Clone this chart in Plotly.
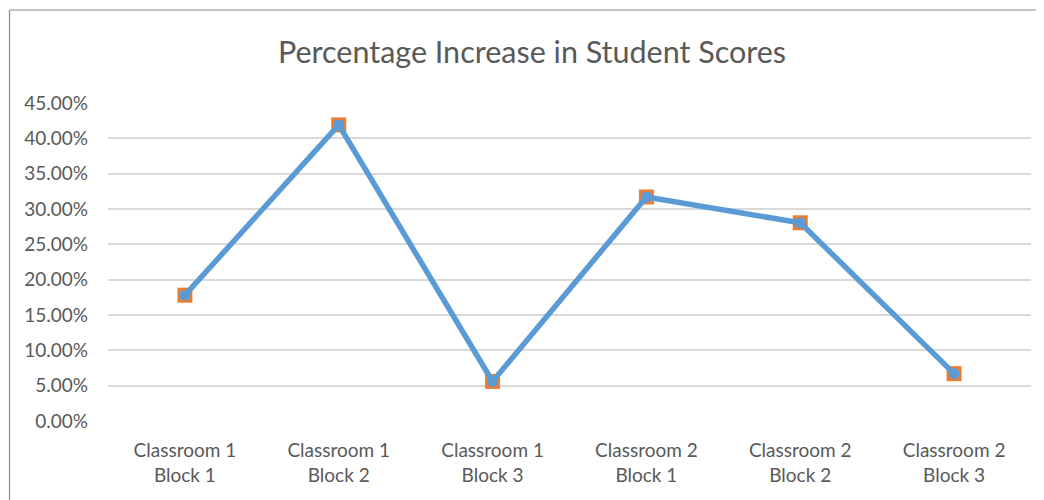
import plotly.graph_objects as go

categories = ["Classroom 1<br>Block 1", "Classroom 1<br>Block 2", "Classroom 1<br>Block 3",
              "Classroom 2<br>Block 1", "Classroom 2<br>Block 2", "Classroom 2<br>Block 3"]
values = [0.178, 0.419, 0.056, 0.317, 0.2805, 0.067]
y_ticks = [0, 0.05, 0.10, 0.15, 0.20, 0.25, 0.30, 0.35, 0.40, 0.45]

# page is offset by 8px body margin; size figure to fill the rest of the viewport
OFF = 8
W, H = 1044 - OFF, 500 - OFF
PLOT_L, PLOT_R, PLOT_T, PLOT_B = 108, 1031, 103, 421  # page pixel coords of plot area
ML, MR = PLOT_L - OFF, (OFF + W) - PLOT_R
MT, MB = PLOT_T - OFF, (OFF + H) - PLOT_B

fig = go.Figure()
fig.add_trace(go.Scatter(x=categories, y=values, mode="markers",
                         marker=dict(symbol="square", size=15, color="#ed7d31",
                                     line=dict(width=0)),
                         hoverinfo="skip", showlegend=False))
fig.add_trace(go.Scatter(x=categories, y=values, mode="lines+markers",
                         line=dict(color="#5b9bd5", width=5.5),
                         marker=dict(symbol="circle", size=11, color="#5b9bd5"),
                         showlegend=False))

pw = W - ML - MR
ph = H - MT - MB
def px2paper_x(px):
    return (px - OFF - ML) / pw
def px2paper_y(py):
    return (H - MB - (py - OFF)) / ph

fig.update_layout(
    width=W, height=H,
    margin=dict(l=ML, r=MR, t=MT, b=MB),
    paper_bgcolor="white", plot_bgcolor="white",
    font=dict(family="Lato, Carlito, sans-serif", color="#595959", size=19),
    title=dict(text="Percentage Increase in Student Scores",
               x=(532 - OFF) / W, xanchor="center", y=1 - (52 - OFF) / H, yanchor="middle",
               font=dict(size=30.5, color="#595959", family="Lato, sans-serif")),
    xaxis=dict(range=[-0.5, 5.5], showgrid=False, showline=False, zeroline=False, ticks="",
               tickfont=dict(size=19, color="#595959"), ticklabelstandoff=16,
               fixedrange=True),
    yaxis=dict(range=[0, 0.45], tickvals=y_ticks, tickformat=".2%",
               showgrid=True, gridcolor="#d9d9d9", gridwidth=1.5,
               zeroline=False, showline=False, ticks="",
               tickfont=dict(size=19, color="#595959"), ticklabelstandoff=19,
               fixedrange=True),
    shapes=[
        dict(type="line", xref="paper", yref="paper",
             x0=px2paper_x(9.5), x1=px2paper_x(1060), y0=px2paper_y(10), y1=px2paper_y(10),
             line=dict(color="#8c8c8c", width=1.2)),
        dict(type="line", xref="paper", yref="paper",
             x0=px2paper_x(9.5), x1=px2paper_x(9.5), y0=px2paper_y(10), y1=px2paper_y(520),
             line=dict(color="#8c8c8c", width=1.2)),
    ],
)

fig.write_html("out.html")
